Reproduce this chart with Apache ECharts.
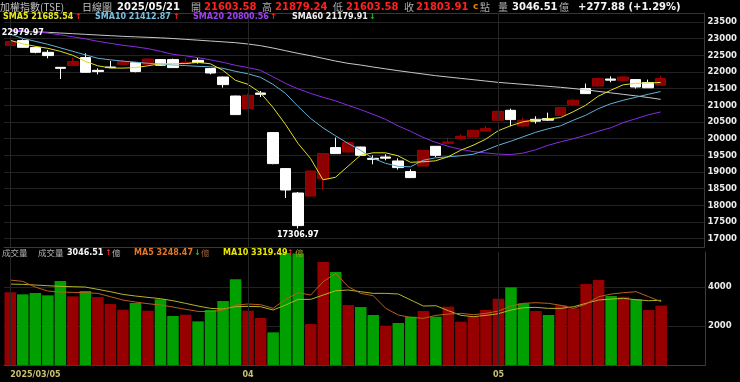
<!DOCTYPE html>
<html><head><meta charset="utf-8">
<script src="https://cdn.jsdelivr.net/npm/echarts@6/dist/echarts.min.js"></script>
<style>html,body{margin:0;padding:0;background:#000;}#c{width:740px;height:382px;}</style>
</head><body><div id="c"></div>
<script>
const dates = ['2025/03/05','2025/03/06','2025/03/07','2025/03/10','2025/03/11','2025/03/12','2025/03/13','2025/03/14','2025/03/17','2025/03/18','2025/03/19','2025/03/20','2025/03/21','2025/03/24','2025/03/25','2025/03/26','2025/03/27','2025/03/28','2025/03/31',
'2025/04/01','2025/04/02','2025/04/07','2025/04/08','2025/04/09','2025/04/10','2025/04/11','2025/04/14','2025/04/15','2025/04/16','2025/04/17','2025/04/18','2025/04/21','2025/04/22','2025/04/23','2025/04/24','2025/04/25','2025/04/28','2025/04/29','2025/04/30',
'2025/05/02','2025/05/05','2025/05/06','2025/05/07','2025/05/08','2025/05/09','2025/05/12','2025/05/13','2025/05/14','2025/05/15','2025/05/16','2025/05/19','2025/05/20','2025/05/21'];
const padSlots = ['pad1','pad2','pad3'];
const tickDates = ['2025/03/05','2025/04/01','2025/05/02'];
const tickLabels = ['2025/03/05','04','05'];
const priceTicks = [17000,17500,18000,18500,19000,19500,20000,20500,21000,21500,22000,22500,23000,23500];
const volTicks = [2000,4000];

const openP  = [22792,22942,22732,22591,22140,22192,22432,22050,22150,22231,22282,22231,22372,22372,22255,22351,22102,21850,21280,20902,21370,20182,19102,18370,18280,18802,19732,19600,19750,19410,19450,19331,19012,19180,19771,19860,20002,20050,20230,20551,20851,20380,20580,20602,20701,21022,21502,21580,21790,21751,21772,21682,21603.58];
const closeP = [22912,22741,22591,22492,22110,22312,21991,22012,22132,22312,22012,22390,22201,22132,22292,22282,21970,21622,20722,21300,21330,19252,18460,17392,19030,19552,19552,19882,19501,19380,19415,19132,18832,19651,19501,19900,20071,20251,20301,20821,20572,20551,20525,20555,20932,21151,21352,21802,21755,21850,21550,21526.03,21803.91];
const lowP   = [22770,22730,22560,22411,21790,22180,21980,21931,22128,22220,21990,22220,22190,22120,22250,22252,21930,21532,20710,20890,21250,19232,18220,17306.97,18270,18451,19540,19590,19490,19231,19351,19071,18820,19170,19450,19850,19990,20040,20200,20540,20371,20370,20452,20530,20680,21010,21340,21570,21691,21720,21502,21520,21603.58];
const highP  = [22940,22979.97,22760,22660,22145,22432,22561,22111,22330,22381,22300,22400,22380,22402,22432,22420,22110,21860,21290,21352,21430,20190,19110,18400,19040,19560,20032,19921,19760,19501,19531,19411,19081,19660,19780,20032,20131,20260,20380,20830,20901,20632,20671,20782,20940,21190,21652,21810,21871,21880,21790,21772,21879.24];

const sma5  = [22951,22846,22771,22711,22621,22501,22321,22186,22120,22117,22132,22186,22246,22252,22252,22291,22246,22051,21751,21631,21376,20941,20431,19861,19411,18766,18841,19171,19501,19576,19576,19486,19291,19306,19336,19456,19651,19801,19981,20236,20386,20506,20566,20596,20632,20806,21001,21271,21451,21616,21661,21670,21685.54];
const sma10 = [23131,23011,22921,22831,22726,22621,22516,22411,22366,22327,22297,22261,22240,22210,22192,22171,22156,22111,22021,21946,21841,21631,21361,20971,20611,20326,20086,19861,19651,19411,19261,19171,19156,19351,19426,19456,19486,19531,19651,19801,19921,20056,20191,20296,20386,20551,20701,20896,21046,21151,21241,21331,21412.87];
const sma20 = [23266,23236,23206,23167,23116,23056,22996,22921,22861,22801,22756,22702,22621,22531,22486,22432,22366,22291,22201,22135,22051,21856,21661,21496,21361,21241,21136,21001,20872,20731,20581,20386,20221,20041,19891,19771,19681,19612,19573,19537,19522,19567,19666,19801,19906,19996,20101,20221,20326,20482,20596,20716,20800.56];
const sma60 = [23235,23220,23205,23190,23170,23150,23130,23110,23090,23070,23055,23040,23025,23005,22980,22955,22930,22905,22880,22840,22790,22720,22640,22560,22490,22410,22330,22260,22210,22150,22095,22040,21990,21940,21890,21850,21810,21770,21730,21690,21660,21630,21600,21570,21540,21505,21465,21420,21375,21330,21285,21235,21179.91];

const volume = [3730,3627,3694,3575,4309,3524,3796,3488,3129,2838,3181,2787,3369,2514,2582,2240,2822,3283,4395,2787,2411,1676,5750,5720,2103,5284,4771,3078,2975,2565,2018,2155,2480,2770,2480,2993,2223,2480,2822,3403,3985,3164,2770,2565,3078,2907,4155,4360,3540,3506,3369,2822,3046.51];
const volUp  = [1,0,0,0,0,1,0,1,1,1,0,1,0,0,1,0,0,0,0,1,1,0,0,0,1,1,0,1,0,0,1,0,0,1,0,1,1,1,1,1,0,0,1,0,1,1,1,1,0,1,0,1,1];
const volMa5  = [4360,4292,4001,3796,3745,3728,3711,3677,3506,3335,3232,3147,3078,2975,2856,2753,2736,2822,3078,3129,3095,2907,3369,3711,3591,4275,4702,4019,3677,3557,2907,2565,2445,2394,2548,2616,2650,2582,2650,2770,3027,3164,3198,3164,3061,2907,3129,3506,3642,3711,3762,3506,3248.47];
const volMa10 = [4155,4138,4104,4070,4036,4019,4001,3882,3762,3625,3540,3471,3403,3300,3164,3027,2907,2873,2993,3010,2993,2822,3078,3369,3369,3591,3813,3848,3762,3677,3677,3643,3335,3027,3044,2787,2548,2480,2548,2634,2822,2941,2958,2907,2907,2993,3164,3335,3386,3420,3352,3300,3319.49];

const cats = dates.concat(padSlots);
const ohlc = openP.map((o,i)=>[o, closeP[i], lowP[i], highP[i]]);
const volData = volume.map((v,i)=>({value:v, itemStyle:{color: volUp[i] ? '#960000' : '#00a000'}}));

const NUM = '"DejaVu Sans", sans-serif';
const CJK = '"Noto Sans CJK TC", sans-serif';
function t(text, x, y, color, font){ return {type:'text', x:x, y:y, z:100, silent:true, style:{text:text, fill:color, font:font, textVerticalAlign:'middle'}}; }
const B10 = 'bold 10px ' + NUM, B8 = 'bold 8px ' + NUM, C10 = '10px ' + CJK, C8 = '8.5px ' + CJK;
const graphics = [
  t('加權指數(TSE)',0,7,'#c0c0c0',C10), t('日線圖',82,7,'#c0c0c0',C10), t('2025/05/21',117,7,'#f4f4f4',B10),
  t('開',191,7,'#b0b0b0',C10), t('21603.58',204,7,'#ff2020',B10),
  t('高',262,7,'#b0b0b0',C10), t('21879.24',275,7,'#ff2020',B10),
  t('低',333,7,'#b0b0b0',C10), t('21603.58',346,7,'#ff2020',B10),
  t('收',404,7,'#b0b0b0',C10), t('21803.91',416,7,'#ff2020',B10),
  t('c',473,7,'#e08a00','bold 9px '+NUM), t('點',480,7,'#b0b0b0',C10),
  t('量',498,7,'#b0b0b0',C10), t('3046.51',512,7,'#f4f4f4',B10), t('億',559,7,'#b0b0b0',C10),
  t('+277.88 (+1.29%)',578,7,'#f4f4f4',B10),
  t('SMA5 21685.54',3,17,'#e8e820',B8), t('↑',75,17,'#ff2020',B8),
  t('SMA10 21412.87',95,17,'#78c0e0',B8), t('↑',173,17,'#ff2020',B8),
  t('SMA20 20800.56',193,17,'#a040f0',B8), t('↑',270,17,'#ff2020',B8),
  t('SMA60 21179.91',292,17,'#ececec',B8), t('↓',369,17,'#20c020',B8),
  t('成交量',2,253,'#b0b0b0',C8), t('成交量',38,253,'#b0b0b0',C8),
  t('3046.51',67,253,'#f4f4f4',B8), t('↑',105,253,'#ff2020',B8), t('億',112,253,'#b0b0b0',C8),
  t('MA5 3248.47',134,253,'#e07828',B8), t('↓',194,253,'#20c020',B8), t('億',201,253,'#a06030',C8),
  t('MA10 3319.49',223,253,'#e8e800',B8), t('↑',287,253,'#e02020',B8), t('億',295,253,'#a09020',C8)
];

const vLines = tickDates.map(d=>({xAxis:d}));
const vLineCfg = {silent:true, symbol:['none','none'], label:{show:false}, lineStyle:{color:'#262626', type:'solid', width:1}, data:vLines, animation:false};

const chart = echarts.init(document.getElementById('c'), null, {renderer:'canvas'});
chart.setOption({
  backgroundColor:'#000',
  animation:false,
  textStyle:{fontFamily:NUM},
  grid:[{left:4,right:35,top:13,height:234},{left:4,right:35,top:252,height:113}],
  xAxis:[
    {type:'category',gridIndex:0,data:cats,boundaryGap:true,axisLine:{show:true,lineStyle:{color:'#5a2838'}},axisTick:{show:false},axisLabel:{show:false},splitLine:{show:false}},
    {type:'category',gridIndex:1,data:cats,boundaryGap:true,axisLine:{show:true,lineStyle:{color:'#3c3c3c'}},axisTick:{show:false},
      axisLabel:{show:true,color:'#c8c070',fontSize:8,fontWeight:'bold',fontFamily:NUM,margin:6,alignMinLabel:'left',
        interval:function(i,v){return tickDates.indexOf(v)>=0;},
        formatter:function(v){const k=tickDates.indexOf(v);return k>=0?tickLabels[k]:'';}},splitLine:{show:false}},
    {type:'category',gridIndex:0,data:cats,position:'top',axisLine:{show:true,lineStyle:{color:'#3c3434'}},axisTick:{show:false},axisLabel:{show:false},splitLine:{show:false}}
  ],
  yAxis:[
    {type:'value',gridIndex:0,position:'right',min:16750,max:23770,interval:250,scale:true,
      axisLine:{show:true,lineStyle:{color:'#3c3c3c'}},axisTick:{show:false},
      axisLabel:{color:'#ececec',fontSize:8.5,fontWeight:'bold',fontFamily:NUM,margin:3,
        formatter:function(v){return priceTicks.indexOf(v)>=0?String(v):'';}},
      splitLine:{show:true,lineStyle:{color:['rgba(0,0,0,0)','#222222'],width:1}}},
    {type:'value',gridIndex:1,position:'right',min:0,max:5800,interval:2000,
      axisLine:{show:true,lineStyle:{color:'#3c3c3c'}},axisTick:{show:false},
      axisLabel:{color:'#ececec',fontSize:8.5,fontWeight:'bold',fontFamily:NUM,margin:3,
        formatter:function(v){return volTicks.indexOf(v)>=0?String(v):'';}},
      splitLine:{show:true,lineStyle:{color:['rgba(0,0,0,0)','#222222','#222222','rgba(0,0,0,0)'],width:1}}}
  ],
  graphic:graphics,
  series:[
    {type:'candlestick',xAxisIndex:0,yAxisIndex:0,data:ohlc,barWidth:11,
      itemStyle:{color:'#8c0000',color0:'#ffffff',borderColor:'#a00000',borderColor0:'#ffffff',borderWidth:1},
      markLine:vLineCfg,
      markPoint:{symbol:'rect',symbolSize:1,itemStyle:{color:'rgba(0,0,0,0)'},
        label:{show:true,color:'#ffffff',fontSize:8,fontWeight:'bold',fontFamily:NUM,formatter:'{c}'},
        data:[{coord:[1,highP[1]],value:highP[1],label:{position:'top',distance:2}},
              {coord:[23,lowP[23]],value:lowP[23],label:{position:'bottom',distance:2}}]}},
    {type:'line',xAxisIndex:0,yAxisIndex:0,data:sma60,showSymbol:false,lineStyle:{color:'#c8c8c8',width:1}},
    {type:'line',xAxisIndex:0,yAxisIndex:0,data:sma20,showSymbol:false,lineStyle:{color:'#8a2be2',width:1}},
    {type:'line',xAxisIndex:0,yAxisIndex:0,data:sma10,showSymbol:false,lineStyle:{color:'#62b0d2',width:1}},
    {type:'line',xAxisIndex:0,yAxisIndex:0,data:sma5,showSymbol:false,lineStyle:{color:'#e0e020',width:1}},
    {type:'bar',xAxisIndex:1,yAxisIndex:1,data:volData,barCategoryGap:'8%',markLine:vLineCfg},
    {type:'line',xAxisIndex:1,yAxisIndex:1,data:volMa10,showSymbol:false,lineStyle:{color:'#b4b428',width:1}},
    {type:'line',xAxisIndex:1,yAxisIndex:1,data:volMa5,showSymbol:false,lineStyle:{color:'#b8601e',width:1}}
  ]
});
</script></body></html>
